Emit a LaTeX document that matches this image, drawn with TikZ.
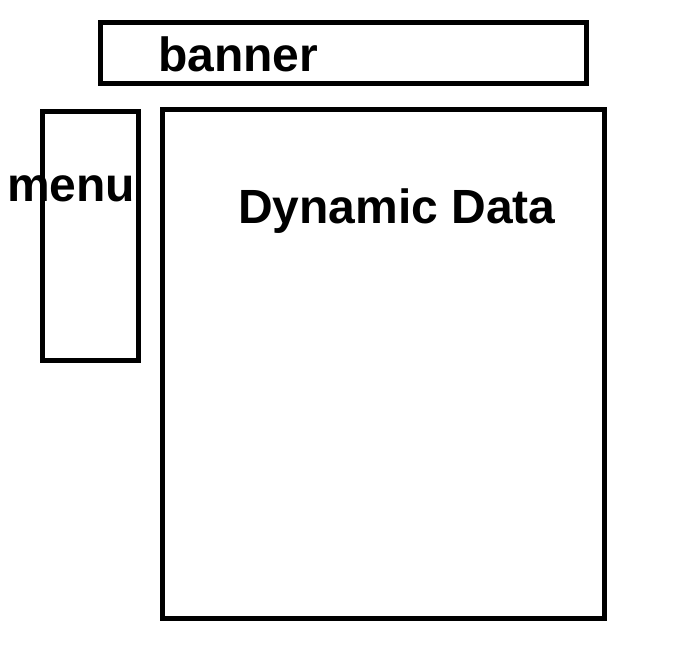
\documentclass[tikz,border=0pt]{standalone}
\usepackage{fontspec}
\setmainfont{Liberation Sans}
\tikzstyle{box}=[rectangle,draw=black,line width=3.8pt,inner sep=0pt]
\tikzstyle{lbl}=[anchor=base west,inner sep=0pt,font=\fontsize{36}{43}\selectfont\bfseries]

\begin{document}
\begin{tikzpicture}[x=0.75pt,y=-0.75pt]
    \useasboundingbox (0,0) rectangle (680,651);
    \node [style=box,minimum width=364.5pt,minimum height=46.1pt] (banner) at (343.7,53.2) {};
    \node [style=box,minimum width=71.9pt,minimum height=186.4pt] (menu) at (90.4,235.8) {};
    \node [style=box,minimum width=331.3pt,minimum height=381.2pt] (data) at (383.4,363.9) {};
    \node [style=lbl] (bannertext) at (158,71) {banner};
    \node [style=lbl] (menutext) at (7,201) {menu};
    \node [style=lbl] (datatext) at (238,223) {Dynamic Data};
  \end{tikzpicture}
\end{document}
